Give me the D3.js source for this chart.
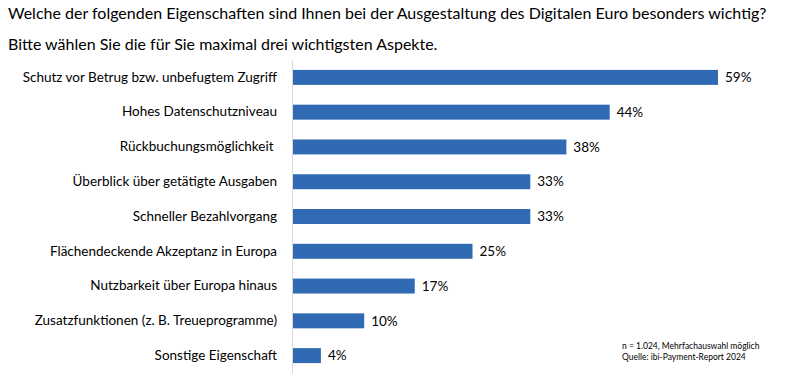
<!DOCTYPE html>
<html>
<head>
<meta charset="utf-8">
<script src="https://cdn.jsdelivr.net/npm/d3@7"></script>
<style>
  body { margin: 0; background: #fff; }
  svg text { font-family: Lato, "Open Sans", sans-serif; fill: #000; white-space: pre; }
</style>
</head>
<body>
<div id="chart"></div>
<script>
var categories = [
    "Schutz vor Betrug bzw. unbefugtem Zugriff",
    "Hohes Datenschutzniveau",
    "Rückbuchungsmöglichkeit ",
    "Überblick über getätigte Ausgaben",
    "Schneller Bezahlvorgang",
    "Flächendeckende Akzeptanz in Europa",
    "Nutzbarkeit über Europa hinaus",
    "Zusatzfunktionen (z. B. Treueprogramme)",
    "Sonstige Eigenschaft"
];
var values = [59, 44, 38, 33, 33, 25, 17, 10, 4];
var titleLines = [
    "Welche der folgenden Eigenschaften sind Ihnen bei der Ausgestaltung des Digitalen Euro besonders wichtig?",
    "Bitte wählen Sie die für Sie maximal drei wichtigsten Aspekte."
];
var noteLines = [
    "n = 1.024, Mehrfachauswahl möglich",
    "Quelle: ibi-Payment-Report 2024"
];

var width = 785, height = 380;
var x0 = 292;

var svg = d3.select("#chart").append("svg")
    .attr("width", width)
    .attr("height", height);

// title
svg.selectAll(".title")
    .data(titleLines)
    .enter().append("text")
    .attr("class", "title")
    .attr("x", 8)
    .attr("y", function (d, i) { return 19 + i * 31; })
    .style("font-size", "16px")
    .text(function (d) { return d; });

var xScale = d3.scaleLinear()
    .domain([0, 59])
    .range([x0, 718]);

var yScale = d3.scaleBand()
    .domain(categories)
    .range([60, 373])
    .paddingInner(0.57)
    .paddingOuter(0.285);

// bars
svg.selectAll(".bar")
    .data(values)
    .enter().append("rect")
    .attr("class", "bar")
    .attr("x", xScale(0))
    .attr("y", function (d, i) { return yScale(categories[i]); })
    .attr("width", function (d) { return xScale(d) - xScale(0); })
    .attr("height", yScale.bandwidth())
    .attr("fill", "#2f6ab3");

// vertical axis line with category labels
var yAxis = svg.append("g")
    .attr("transform", "translate(" + x0 + ",0)")
    .call(d3.axisLeft(yScale).tickSize(0).tickPadding(15));
yAxis.select(".domain").attr("stroke", "#d9d9d9");
yAxis.selectAll("text")
    .style("font-size", "13.5px")
    .style("font-family", "Lato, 'Open Sans', sans-serif")
    .attr("fill", "#000");

// value labels
svg.selectAll(".val")
    .data(values)
    .enter().append("text")
    .attr("class", "val")
    .attr("x", function (d) { return xScale(d) + 7; })
    .attr("y", function (d, i) { return yScale(categories[i]) + yScale.bandwidth() / 2; })
    .attr("dy", "0.35em")
    .style("font-size", "13.5px")
    .text(function (d) { return d + "%"; });

// footnote
svg.selectAll(".note")
    .data(noteLines)
    .enter().append("text")
    .attr("class", "note")
    .attr("x", 622)
    .attr("y", function (d, i) { return 349 + i * 11; })
    .style("font-size", "8.5px")
    .text(function (d) { return d; });
</script>
</body>
</html>
